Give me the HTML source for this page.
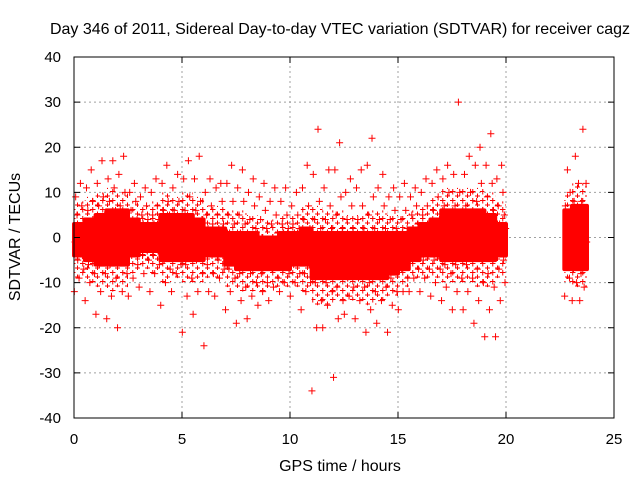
<!DOCTYPE html>
<html><head><meta charset="utf-8"><style>
body{margin:0;background:#fff;}
svg{display:block;font-family:"Liberation Sans",sans-serif;}
</style></head><body>
<svg id="chart" width="640" height="480">
<defs>
<pattern id="plusPat" width="10" height="9" patternUnits="userSpaceOnUse">
<path d="M0,2.5h5.5M2.75,0v5.5M5,7h5M7.5,4.5v4.5" stroke="#ff0000" stroke-width="1"/>
</pattern>
</defs>
<rect width="640" height="480" fill="#fff"/>
<text x="340" y="34" font-size="16" text-anchor="middle">Day 346 of 2011, Sidereal Day-to-day VTEC variation (SDTVAR) for receiver cagz</text>
<text x="340" y="471" font-size="16" text-anchor="middle">GPS time / hours</text>
<text transform="translate(20,237) rotate(-90)" font-size="16" text-anchor="middle">SDTVAR / TECUs</text>
<g id="grid"></g>
<g id="points"></g>
<g id="ticks"></g>
<rect x="74" y="57" width="540" height="361" fill="none" stroke="#000"/>
</svg>
<script>
const xTicks=[0,5,10,15,20,25];
const yTicks=[-40,-30,-20,-10,0,10,20,30,40];
const binStarts=[0,0.5,1,1.5,2,2.5,3,3.5,4,4.5,5,5.5,6,6.5,7,7.5,8,8.5,9,9.5,10,10.5,11,11.5,12,12.5,13,13.5,14,14.5,15,15.5,16,16.5,17,17.5,18,18.5,19,19.5,22.7,23.05,23.4];
const binEnds=[0.5,1,1.5,2,2.5,3,3.5,4,4.5,5,5.5,6,6.5,7,7.5,8,8.5,9,9.5,10,10.5,11,11.5,12,12.5,13,13.5,14,14.5,15,15.5,16,16.5,17,17.5,18,18.5,19,19.5,20,23.05,23.4,23.75];
const coreLow=[-4,-5,-6,-6,-6,-4,-3,-3,-5,-5,-5,-5,-4,-4,-6,-7,-7,-7,-7,-7,-6,-6,-9,-9,-9,-9,-9,-9,-9,-8,-7,-5,-4,-4,-5,-5,-5,-5,-5,-4,-7,-7,-7];
const coreHigh=[3,4,5,6,6,4,3,3,5,5,5,4,2,2,1,1,1,0,0,1,1,2,1,1,1,1,1,1,1,1,1,2,3,4,6,6,6,6,5,3,6,7,7];
const fringeLow=[-9,-10,-11,-12,-11,-8,-7,-8,-10,-9,-10,-10,-9,-9,-11,-12,-12,-12,-11,-11,-11,-12,-15,-15,-14,-14,-14,-15,-14,-13,-11,-9,-9,-9,-10,-10,-10,-11,-11,-9,-10,-11,-11];
const fringeHigh=[8,9,10,11,10,8,7,8,10,9,10,9,7,7,6,6,5,4,4,5,5,7,7,6,6,5,5,6,6,5,5,6,7,9,11,11,11,11,10,8,10,12,12];
const binValues=[
[-12,-9,-7,-5,-4,-3,-2,-1,0,1,2,3,5,7,9,12],
[-14,-10,-8,-6,-4,-2,-1,0,1,2,3,4,6,8,11,15],
[-17,-12,-8,-6,-4,-2,-1,0,1,2,4,5,7,9,12,17],
[-18,-13,-9,-6,-4,-2,-1,0,1,2,4,6,8,11,13,17],
[-20,-12,-8,-5,-3,-2,-1,0,1,2,3,5,7,10,14,18],
[-13,-9,-6,-4,-3,-2,-1,0,1,2,3,4,6,8,10,12],
[-11,-8,-5,-4,-3,-2,-1,0,1,2,3,4,5,7,9,11],
[-12,-8,-6,-4,-3,-2,-1,0,1,2,3,4,5,7,10,13],
[-15,-10,-7,-5,-3,-2,-1,0,1,2,3,5,6,8,12,16],
[-12,-8,-6,-4,-3,-2,-1,0,1,2,3,4,6,8,11,14],
[-21,-13,-9,-6,-4,-3,-2,-1,0,1,2,4,6,9,13,17],
[-17,-12,-8,-5,-4,-3,-2,-1,0,1,2,4,6,8,13,18],
[-24,-12,-8,-6,-4,-3,-2,-1,0,1,2,3,5,7,10,13],
[-13,-9,-7,-5,-4,-3,-2,-1,0,1,2,3,5,8,11,12],
[-16,-12,-9,-7,-5,-4,-3,-2,-1,0,1,3,5,8,12,16],
[-19,-14,-11,-8,-6,-4,-3,-2,-1,0,1,3,5,8,11,15],
[-18,-13,-10,-8,-6,-5,-4,-3,-2,-1,0,2,4,7,10,13],
[-15,-12,-10,-8,-6,-5,-4,-3,-2,-1,0,2,4,6,9,12],
[-14,-11,-9,-7,-6,-5,-4,-3,-2,-1,0,1,3,5,8,11],
[-12,-10,-8,-7,-5,-4,-3,-2,-1,0,1,2,3,5,8,11],
[-13,-10,-8,-6,-5,-4,-3,-2,-1,0,1,2,3,5,7,10],
[-16,-12,-10,-8,-6,-5,-4,-3,-2,-1,0,2,4,7,11,16],
[-34,-20,-14,-10,-8,-6,-4,-3,-2,-1,0,2,4,8,14,24],
[-20,-15,-12,-10,-8,-6,-4,-3,-2,-1,0,2,4,7,11,15],
[-31,-18,-14,-11,-8,-6,-4,-3,-2,-1,0,2,5,9,15,21],
[-17,-13,-11,-9,-7,-5,-4,-3,-2,-1,0,2,4,7,10,13],
[-18,-14,-11,-9,-7,-5,-4,-3,-2,-1,0,2,4,7,11,15],
[-21,-16,-12,-10,-8,-6,-4,-3,-2,-1,0,2,5,9,16,22],
[-19,-14,-11,-9,-7,-5,-4,-3,-2,-1,0,2,4,7,11,14],
[-21,-15,-12,-9,-7,-5,-4,-3,-2,-1,0,2,4,6,9,11],
[-16,-12,-9,-7,-5,-4,-3,-2,-1,0,1,2,4,6,9,12],
[-12,-9,-7,-5,-4,-3,-2,-1,0,1,2,3,5,7,9,11],
[-12,-9,-7,-5,-4,-3,-2,-1,0,1,2,3,5,7,10,13],
[-13,-10,-7,-5,-4,-3,-1,0,1,2,3,4,6,9,12,15],
[-14,-11,-8,-6,-4,-3,-1,0,1,2,3,5,7,10,13,16],
[-16,-12,-9,-6,-4,-3,-1,0,1,2,3,5,7,10,14,30],
[-16,-12,-9,-6,-4,-3,-1,0,1,2,3,5,7,10,14,18],
[-19,-14,-10,-7,-5,-3,-1,0,1,2,4,6,8,12,16,20],
[-22,-16,-11,-8,-5,-3,-1,0,1,2,4,6,9,12,16,23],
[-22,-14,-10,-7,-5,-3,-1,0,1,2,3,5,7,10,13,16],
[-13,-9,-6,-4,-2,0,2,4,7,10,15],
[-14,-10,-7,-5,-3,-1,1,3,5,8,12,18],
[-14,-11,-8,-5,-3,-1,1,3,5,8,12,24]
];
const X0=74,X1=614,Y0=418,Y1=57;
const xs=v=>X0+(v-0)/(25-0)*(X1-X0);
const ys=v=>Y0-(v+40)/80*(Y0-Y1);
const NS="http://www.w3.org/2000/svg";
const grid=document.getElementById('grid'),ticks=document.getElementById('ticks'),pts=document.getElementById('points');
let gd="",td="";
xTicks.forEach(t=>{const x=xs(t);
 if(t>0&&t<25)gd+=`M${x},${Y0}V${Y1}`;
 td+=`M${x},${Y0}v-6M${x},${Y1}v6`;
 const tx=document.createElementNS(NS,'text');
 
 
 tx.setAttribute('x',x);tx.setAttribute('y',444);tx.setAttribute('font-size','15');tx.setAttribute('text-anchor','middle');
 tx.textContent=t;ticks.appendChild(tx);});
yTicks.forEach(t=>{const y=ys(t);
 if(t>-40&&t<40)gd+=`M${X0},${y}H${X1}`;
 td+=`M${X0},${y}h6M${X1},${y}h-6`;
 const tx=document.createElementNS(NS,'text');
 
 
 tx.setAttribute('x',61);tx.setAttribute('y',y+5);tx.setAttribute('font-size','15');tx.setAttribute('text-anchor','end');
 tx.textContent=t;ticks.appendChild(tx);});
const gp=document.createElementNS(NS,'path');


gp.setAttribute('d',gd);gp.setAttribute('stroke','#a0a0a0');gp.setAttribute('stroke-dasharray','2,3');gp.setAttribute('fill','none');grid.appendChild(gp);
const tp=document.createElementNS(NS,'path');


tp.setAttribute('d',td);tp.setAttribute('stroke','#000');tp.setAttribute('fill','none');ticks.appendChild(tp);
let fd="";
fringeLow.forEach((lo,b)=>{const x0=xs(binStarts[b]),x1=xs(binEnds[b]);
 fd+=`M${x0},${ys(fringeHigh[b])}H${x1}V${ys(lo)}H${x0}Z`;});
const fp=document.createElementNS(NS,'path');


fp.setAttribute('d',fd);fp.setAttribute('fill','url(#plusPat)');pts.appendChild(fp);
let bd="";
coreLow.forEach((lo,b)=>{const x0=xs(binStarts[b]),x1=xs(binEnds[b]);
 bd+=`M${x0},${ys(coreHigh[b])}H${x1}V${ys(lo)}H${x0}Z`;});
const bp=document.createElementNS(NS,'path');


bp.setAttribute('d',bd);bp.setAttribute('fill','#ff0000');bp.setAttribute('stroke','#ff0000');bp.setAttribute('stroke-width','4');bp.setAttribute('stroke-linejoin','round');pts.appendChild(bp);
let pd="";
binValues.forEach((vals,b)=>{const n=vals.length;
 vals.forEach((v,i)=>{const f=((i*7)%n+0.5)/n;
  const t=binStarts[b]+f*(binEnds[b]-binStarts[b]);
  const x=xs(t),y=ys(v);
  pd+=`M${x-3.5},${y}h7M${x},${y-3.5}v7`;});});
const pp=document.createElementNS(NS,'path');


pp.setAttribute('d',pd);pp.setAttribute('stroke','#ff0000');pp.setAttribute('fill','none');pts.appendChild(pp);
</script>
</body></html>
